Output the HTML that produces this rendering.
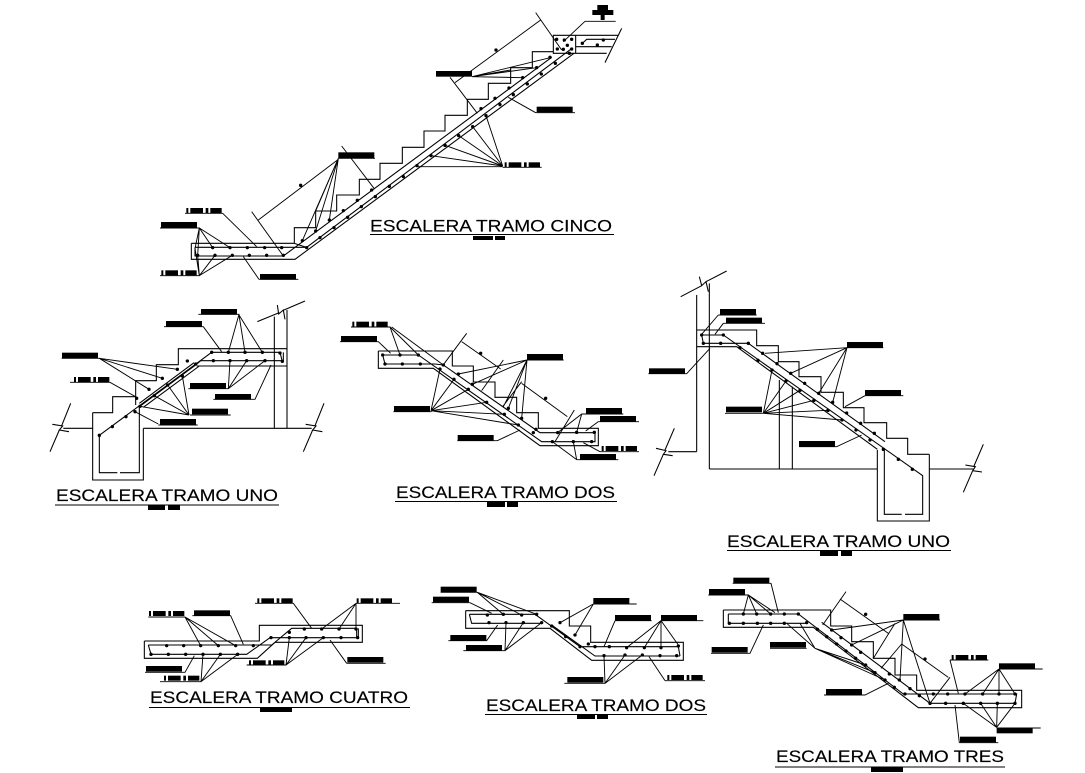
<!DOCTYPE html>
<html><head><meta charset="utf-8"><title>Escaleras</title>
<style>
html,body{margin:0;padding:0;background:#fff;width:1085px;height:773px;overflow:hidden}
svg{display:block}
.z path{fill:none;stroke:#000;stroke-width:3.2;stroke-linejoin:miter}
.z path.d{stroke-width:10;stroke-linecap:round}
.z path.l{stroke-width:2.8}
.t{font:17px "Liberation Sans",sans-serif;fill:#000;stroke:#000;stroke-width:.15}
</style></head><body>
<svg width="1085" height="773" viewBox="0 0 1085 773" xmlns="http://www.w3.org/2000/svg">
<defs>
<rect id="a" width="108" height="17"/>
<g id="b"><rect x="2" width="6" height="15"/><rect x="14" width="38" height="15"/><rect x="60" width="8" height="15"/><rect x="74" width="34" height="15"/></g>
</defs>

<!-- CINCO -->
<g class="z" transform="translate(150,0) scale(.33333)">
<path d="M124 730H433V683H497V633H560V585H628V538H690V490H757V442H822V393H885V346H952V298H1015V250H1082V203H1147V155H1210M124 730V778H435L1272 160M1210 106H1277V160H1210ZM1277 106H1405M1277 140H1385M1277 160H1370M1415 85L1365 188M433 730L470 742"/>
<path d="M135 742H470L1262 148M135 742V768H400L1205 172M1297 130L1310 118H1395"/>
<path class="d" d="M188 743h0M240 743h0M292 743h0M344 743h0M395 743h0M143 766h0M195 766h0M247 766h0M298 766h0M350 766h0M400 766h0M457 722h0M497 693h0M538 660h0M580 632h0M622 601h0M665 570h0M993 326h0M1035 295h0M1077 264h0M1118 233h0M1160 203h0M1200 172h0M470 743h0M510 713h0M552 683h0M593 652h0M634 620h0M676 590h0M718 559h0M760 530h0M801 497h0M843 467h0M885 436h0M926 407h0M968 380h0M1008 347h0M1050 314h0M1090 284h0M1132 252h0M1174 222h0M1216 190h0M1258 160h0M1220 118h0M1243 120h0M1265 118h0M1222 147h0M1240 148h0M1252 136h0M1265 147h0M1297 130h0M1342 135h0M1360 120h0M452 556h0M1038 150h0"/>
<path class="l" d="M966 230L1205 172M966 230L1160 203M966 230L1118 233M966 230L1082 210M915 248L1172 60M1157 38L1235 150M900 232L982 340M1305 64H1397M1305 64L1240 125M1157 338H1275M1157 338L1075 292M1058 502H1175M1058 498L1008 347M1058 498L968 380M1058 498L926 407M1058 498L885 436M1058 498L843 467M1058 500L800 500M305 635L400 768M325 660L565 478M575 438L672 565M565 475H675M565 475L457 722M565 475L497 693M565 475L538 660M565 475L497 633M105 640H218L320 740M30 684H148L188 743M148 684L240 743M148 684L135 745M148 684L143 766M30 827H148L143 766M148 827L195 766M148 827L247 766M148 827L135 745M327 838H445M327 838L280 770"/>
<use href="#a" x="858" y="213"/><use href="#a" x="1160" y="320"/><use href="#b" x="1062" y="487"/><use href="#a" x="565" y="457"/><use href="#b" x="107" y="624"/><use href="#a" x="33" y="666"/><use href="#b" x="32" y="811"/><use href="#a" x="330" y="822"/>
<rect x="1327" y="30" width="63" height="15"/><rect x="1342" y="15" width="32" height="15"/><rect x="1352" y="45" width="12" height="15"/>
</g>
<text class="t" x="370" y="231.500" textLength="242" lengthAdjust="spacingAndGlyphs">ESCALERA TRAMO CINCO</text>
<path d="M370 234.500H614" stroke="#000"/><path d="M473 236h20v4h-20zM495 236h10v4h-10z"/>

<!-- UNO izq -->
<g class="z" transform="translate(40,290) scale(.33333)">
<path d="M158 368H218V320H287V272H349V224H415V176H741M158 368V570H310V415M287 272V345M178 436L515 187H720L727 215M178 436V548H232M240 548H298V350L468 224L482 212H730V187M470 228H741M310 352L478 228M298 340L462 218M70 415H158M92 340L65 407M37 403L68 408L58 420L87 425M58 420L30 485M310 415H815M852 340L825 407M797 403L828 408L818 420L847 425M818 420L790 485M703 415V80M741 415V60M652 95L718 68M732 60L795 33M712 45L716 72L730 60L735 88"/>
<path class="d" d="M178 436h0M217 410h0M258 380h0M300 349h0M343 317h0M383 285h0M427 258h0M467 222h0M290 325h0M327 298h0M367 265h0M412 238h0M442 213h0M515 187h0M565 187h0M615 187h0M667 187h0M720 189h0M520 212h0M570 212h0M620 212h0M675 212h0M727 214h0M285 365h0"/>
<path class="l" d="M475 73H597L565 187M597 75L615 187M597 75L667 187M372 110H490L545 185M65 205H178L412 238M178 205L367 265M178 205L327 298M90 277H210L290 322M445 296H565L570 212M565 296L620 212M565 296L675 212M520 328H645L693 225M450 375H572M447 375L427 258M447 375L383 285M447 375L343 317M447 375L300 349M355 405H473M355 402L285 365"/>
<use href="#a" x="483" y="57"/><use href="#a" x="378" y="93"/><use href="#a" x="66" y="188"/><use href="#b" x="100" y="261"/><use href="#a" x="450" y="279"/><use href="#a" x="525" y="312"/><use href="#a" x="456" y="356"/><use href="#a" x="360" y="387"/>
</g>
<text class="t" x="56" y="501" textLength="222" lengthAdjust="spacingAndGlyphs">ESCALERA TRAMO UNO</text>
<path d="M55 505H279" stroke="#000"/><path d="M148 505h17v5h-17zM168 505h12v5h-12z"/>

<!-- DOS centro -->
<g class="z" transform="translate(335,300) scale(.33333)">
<path d="M130 153H352V198H415V246H480V292H545V338H610V385H790V437H615L295 205H130V153"/>
<path d="M150 192H300L325 195L603 390L615 398H780V425H620L250 165H143L150 192"/>
<path class="d" d="M143 165h0M195 165h0M250 165h0M150 192h0M202 192h0M256 192h0M325 195h0M370 222h0M412 253h0M520 325h0M560 355h0M603 388h0M668 398h0M725 397h0M778 397h0M315 207h0M357 238h0M400 268h0M455 307h0M508 343h0M550 375h0M595 398h0M652 425h0M715 425h0M770 425h0M437 160h0M632 295h0"/>
<path class="l" d="M48 81H165L195 165M165 81L250 165M170 81L325 195M15 125H130L167 160M395 100L323 197M380 125L497 207M505 180L440 272M560 250L697 350M718 330L660 425M560 245L503 320M576 180H686M576 180L370 222M576 180L412 253M576 180L520 325M576 180L560 355M576 180L505 320M175 335H290M288 332L315 207M288 332L357 238M288 332L400 268M288 332L455 307M288 332L508 343M288 332L550 375M367 422H487L555 390M740 342H865M740 342L668 398M740 342L725 397M790 365H912M790 365L752 393M795 455H912M795 455L745 428M725 479H850M725 479L652 425M725 479L715 425"/>
<use href="#b" x="50" y="65"/><use href="#a" x="18" y="108"/><use href="#a" x="576" y="162"/><use href="#a" x="177" y="318"/><use href="#a" x="368" y="405"/><use href="#a" x="753" y="324"/><use href="#a" x="795" y="348"/><use href="#b" x="798" y="438"/><use href="#a" x="735" y="462"/>
</g>
<text class="t" x="396" y="498" textLength="219" lengthAdjust="spacingAndGlyphs">ESCALERA TRAMO DOS</text>
<path d="M395 501.500H617" stroke="#000"/><path d="M487 502h18v5h-18zM507 502h11v5h-11z"/>

<!-- UNO der -->
<g class="z" transform="translate(640,265) scale(.33333)">
<path d="M170 560V90M208 55V612M122 95L185 62M198 50L260 18M178 35L185 62L198 50L205 80M85 560H170M103 490L75 555M48 550L78 557L70 568L98 572M70 568L42 632M208 612H712M418 345V612M457 365V612M712 555V768H868V568M868 612H1000M1030 538L1002 603M976 600L1006 605L998 617L1026 621M998 617L970 682"/>
<path d="M170 195H350V242H415V290H477V335H543V382H610V428H672V473H740V520H803V568H868M170 245H290L712 553M325 235L735 530"/>
<path d="M185 210H250L848 632V748H795M785 748H733V555M185 210L190 235H325"/>
<path class="d" d="M185 210h0M250 210h0M190 235h0M242 235h0M325 235h0M368 265h0M411 296h0M452 325h0M494 355h0M536 385h0M578 412h0M620 444h0M662 475h0M703 505h0M730 553h0M775 583h0M817 613h0M300 248h0M354 286h0M396 315h0M438 348h0M480 376h0M522 406h0M564 436h0M606 465h0M648 495h0M690 525h0"/>
<path class="l" d="M235 150H350M235 150L185 208M250 175H375M250 175L225 208M25 326H140L210 250M621 248H730M621 248L375 265M621 248L452 325M621 248L536 385M621 248L578 412M675 392H790M675 392L615 425M255 445H370L396 315M370 445L438 348M370 445L480 376M370 445L522 406M370 445L564 436M370 445L606 465M477 545H590L665 510"/>
<use href="#a" x="240" y="132"/><use href="#a" x="258" y="158"/><use href="#a" x="27" y="310"/><use href="#a" x="621" y="231"/><use href="#a" x="675" y="375"/><use href="#a" x="258" y="425"/><use href="#a" x="477" y="528"/>
</g>
<text class="t" x="727" y="547" textLength="223" lengthAdjust="spacingAndGlyphs">ESCALERA TRAMO UNO</text>
<path d="M727 550.500H951" stroke="#000"/><path d="M820 551h18v5h-18zM841 551h11v5h-11z"/>

<!-- CUATRO -->
<g class="z" transform="translate(135,585) scale(.33333)">
<path d="M28 168H373V121H682V172H420L367 220H28V168M40 180H410L470 130H665V160M40 180L48 208H335L405 158H670V130"/>
<path class="d" d="M95 182h0M146 182h0M197 182h0M250 182h0M302 182h0M355 182h0M408 158h0M463 142h0M508 132h0M560 132h0M612 132h0M663 132h0M48 208h0M100 208h0M152 208h0M204 208h0M256 208h0M308 208h0M463 158h0M513 158h0M565 158h0M618 158h0M668 158h0"/>
<path class="l" d="M40 96H150L197 182M150 96L250 182M150 96L302 182M172 92H287L325 178M360 55H475L530 130M663 55H795M663 55L560 132M663 55L612 132M663 55V132M635 235H752M635 235L585 165M335 240H453L463 158M453 240L513 158M453 240L565 158M30 262H150L178 212M75 290H198L204 208M198 290L256 208M198 290L308 208"/>
<use href="#b" x="40" y="78"/><use href="#a" x="177" y="76"/><use href="#b" x="365" y="40"/><use href="#b" x="663" y="40"/><use href="#a" x="637" y="216"/><use href="#b" x="340" y="226"/><use href="#a" x="33" y="243"/><use href="#b" x="85" y="272"/>
</g>
<text class="t" x="150" y="703" textLength="258" lengthAdjust="spacingAndGlyphs">ESCALERA TRAMO CUATRO</text>
<path d="M149 707.500H410" stroke="#000"/><path d="M260 707h32v5h-32z"/>

<!-- DOS abajo -->
<g class="z" transform="translate(425,580) scale(.33333)">
<path d="M122 92H433V138H497V187H775V241H500L375 145H122V92M133 103H330L465 200H760L765 228M133 103L140 130H350M380 135L510 228H765"/>
<path class="d" d="M187 105h0M235 103h0M290 105h0M335 103h0M192 128h0M243 128h0M295 128h0M350 128h0M380 138h0M405 128h0M422 170h0M450 165h0M490 192h0M465 200h0M510 200h0M553 200h0M605 203h0M658 203h0M708 203h0M760 198h0M537 227h0M600 225h0M652 225h0M705 227h0M755 227h0"/>
<path class="l" d="M47 37H157L235 103M157 37L290 105M157 37L335 103M20 68H135L200 100M505 72H635M505 72L405 128M505 72L450 165M570 122H680M570 122L537 200M708 122H835M708 122L605 203M708 122L658 203M708 122V203M708 122L760 195M70 182H185L218 135M115 212H240L243 128M240 212L295 128M240 212L350 128M418 310H540L537 227M540 310L600 225M540 310L652 225M720 302H840M720 302L672 230"/>
<use href="#a" x="47" y="20"/><use href="#a" x="24" y="50"/><use href="#a" x="505" y="54"/><use href="#a" x="570" y="105"/><use href="#a" x="708" y="105"/><use href="#a" x="76" y="165"/><use href="#a" x="123" y="195"/><use href="#a" x="427" y="291"/><use href="#b" x="725" y="285"/>
</g>
<text class="t" x="486" y="711" textLength="220" lengthAdjust="spacingAndGlyphs">ESCALERA TRAMO DOS</text>
<path d="M485 714.500H707" stroke="#000"/><path d="M577 714h18v5h-18zM597 714h11v5h-11z"/>

<!-- TRES -->
<g class="z" transform="translate(700,570) scale(.33333)">
<path d="M70 120H392V168H455V215H520V265H585V315H650V361H965V413H655L340 172H70V120M85 132H295L610 372H950L945 400H690L365 157M85 132V160H320"/>
<path class="d" d="M130 132h0M170 132h0M212 132h0M253 132h0M295 132h0M88 160h0M130 160h0M172 160h0M212 160h0M253 160h0M320 158h0M352 178h0M395 180h0M380 200h0M423 203h0M455 225h0M410 222h0M438 243h0M482 247h0M467 265h0M497 285h0M525 308h0M555 330h0M568 312h0M598 330h0M583 352h0M630 356h0M615 372h0M658 377h0M690 400h0M700 372h0M743 372h0M795 372h0M848 372h0M897 372h0M945 372h0M737 400h0M790 400h0M842 400h0M892 400h0M945 400h0M497 133h0M675 267h0"/>
<path class="l" d="M98 40H213L235 128M25 75H145L130 132M145 75L170 132M145 75L212 132M145 75L225 128M33 250H150L190 165M210 235H320M345 235L260 160M345 235L300 160M345 235L530 310M345 235L555 330M345 235L497 285M438 65L368 165M420 87L565 190M585 160L520 265M605 222L745 322M605 222L543 295M750 322L690 400M610 150H720M610 150L395 180M610 150L455 225M610 150L600 330M610 150L690 400M750 270H865M750 270L775 370M897 297H1028M897 297L795 372M897 297L848 372M897 297V372M897 297L945 372M890 474H1022M890 472L790 400M890 472L842 400M890 472L892 400M890 472L945 400M778 518H895M778 518L765 405M372 375H495L565 340"/>
<use href="#a" x="100" y="23"/><use href="#a" x="27" y="57"/><use href="#a" x="35" y="231"/><use href="#a" x="210" y="216"/><use href="#a" x="610" y="132"/><use href="#b" x="753" y="255"/><use href="#a" x="897" y="280"/><use href="#a" x="890" y="473"/><use href="#a" x="780" y="500"/><use href="#a" x="378" y="357"/>
</g>
<text class="t" x="776" y="762" textLength="228" lengthAdjust="spacingAndGlyphs">ESCALERA TRAMO TRES</text>
<path d="M775 767H1005" stroke="#000"/><path d="M871 767h32v5h-32z"/>
</svg>
</body></html>
